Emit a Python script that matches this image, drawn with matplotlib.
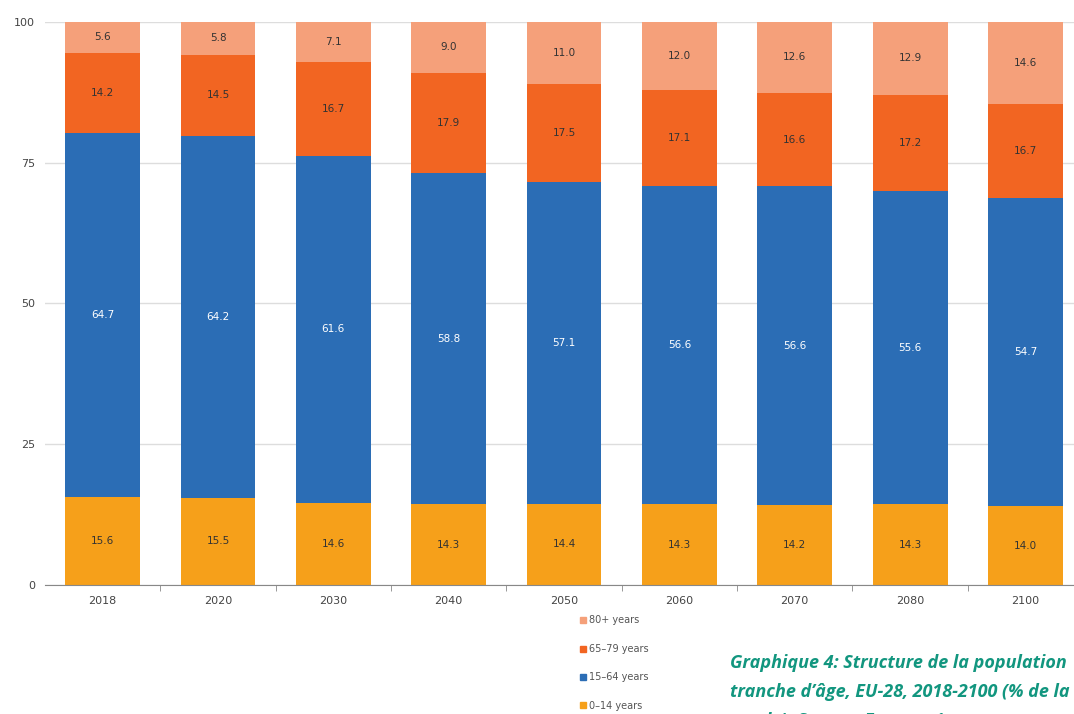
import matplotlib
matplotlib.use("Agg")
import matplotlib.pyplot as plt
from matplotlib.lines import Line2D

years = ["2018", "2020", "2030", "2040", "2050", "2060", "2070", "2080", "2100"]
age_0_14 = [15.6, 15.5, 14.6, 14.3, 14.4, 14.3, 14.2, 14.3, 14.0]
age_15_64 = [64.7, 64.2, 61.6, 58.8, 57.1, 56.6, 56.6, 55.6, 54.7]
age_65_79 = [14.2, 14.5, 16.7, 17.9, 17.5, 17.1, 16.6, 17.2, 16.7]
age_80p = [5.6, 5.8, 7.1, 9.0, 11.0, 12.0, 12.6, 12.9, 14.6]
series_names = ["0\u201314 years", "15\u201364 years", "65\u201379 years", "80+ years"]
yticks = [0, 25, 50, 75, 100]

colors = ["#F6A01A", "#2B6DB5", "#F26522", "#F5A07A"]
label_colors = ["#333333", "#FFFFFF", "#333333", "#333333"]

fig = plt.figure(figsize=(10.74, 7.14), dpi=100)
ax = fig.add_axes([0.0419, 0.1807, 0.9665, 0.7885])

x = list(range(len(years)))
bottom = [0.0] * len(years)
for vals, col, lc in zip([age_0_14, age_15_64, age_65_79, age_80p], colors, label_colors):
    ax.bar(x, vals, bottom=bottom, width=0.65, color=col, zorder=2)
    for xi, b, v in zip(x, bottom, vals):
        top = min(b + v, 100)
        ax.text(xi, (b + top) / 2, f"{v:.1f}", ha="center", va="center",
                fontsize=7.5, color=lc, zorder=3)
    bottom = [b + v for b, v in zip(bottom, vals)]

ax.set_ylim(0, 100)
ax.set_xlim(-0.5, len(years) - 0.5)
ax.set_yticks(yticks)
ax.set_yticklabels([str(t) for t in yticks], fontsize=8, color="#444444")
ax.tick_params(axis="y", length=0, pad=7)
ax.set_xticks(x)
ax.set_xticklabels(years, fontsize=8, color="#444444")
ax.tick_params(axis="x", length=0, pad=8)
ax.set_xticks([i + 0.5 for i in x], minor=True)
ax.tick_params(axis="x", which="minor", length=4, color="#888888", direction="out")
ax.grid(axis="y", color="#DDDDDD", linewidth=1, zorder=0)
for s in ["top", "right", "left"]:
    ax.spines[s].set_visible(False)
ax.spines["bottom"].set_color("#888888")
ax.spines["bottom"].set_zorder(4)

handles = [Line2D([], [], marker="s", linestyle="", markersize=4, color=c)
           for c in colors]
leg = fig.legend(handles[::-1], series_names[::-1], loc="upper left",
                 frameon=False, fontsize=7, labelcolor="#555555", labelspacing=1.9,
                 handletextpad=0.2, handlelength=0.8, borderaxespad=0,
                 borderpad=0)
leg.set_bbox_to_anchor((0.539, 0.138), transform=fig.transFigure)

cap_color = "#12967F"
cap_font = ["Liberation Sans Narrow", "Open Sans", "DejaVu Sans"]
lines = ["Graphique 4: Structure de la population",
         "tranche d\u2019\u00e2ge, EU-28, 2018-2100 (% de la",
         "totale). Source: Eurostat\u00b9"]
for i, t in enumerate(lines):
    fig.text(730 / 1074, 1 - (668 + 29 * i) / 714, t, fontsize=13, color=cap_color,
             fontweight="bold", fontstyle="italic", family=cap_font,
             ha="left", va="baseline")

fig.savefig("out.png", dpi=100)
